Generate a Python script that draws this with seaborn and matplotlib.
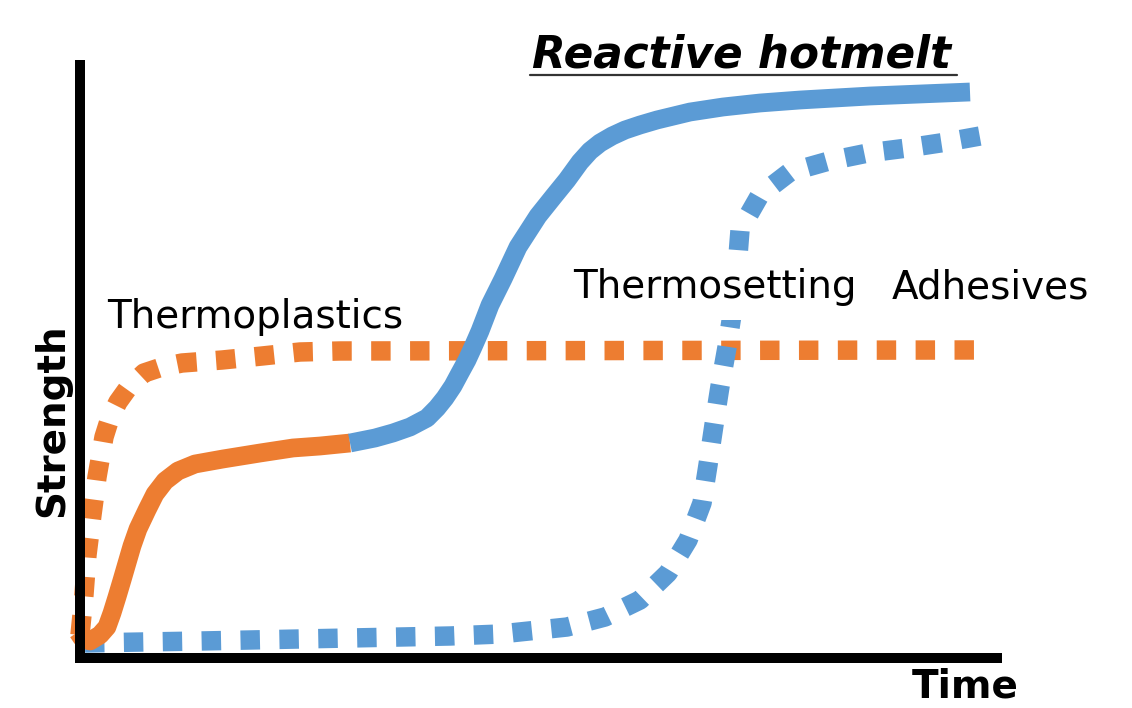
import matplotlib
matplotlib.use("Agg")
import matplotlib.pyplot as plt
import seaborn as sns
import pandas as pd

# ---- data (time 0-100, strength 0-100) ----
thermoplastic_t = [0.0, 0.43, 0.76, 1.30, 1.85, 2.61, 3.26, 4.13, 5.22, 6.96, 8.91, 11.09, 15.43, 19.78, 23.91, 28.26, 97.83]
thermoplastic_s = [3.85, 10.54, 17.22, 23.91, 30.27, 36.96, 40.13, 42.81, 45.15, 47.66, 48.66, 49.33, 49.83, 50.50, 51.17, 51.34, 51.51]

hotmelt_early_t = [-0.22, 0.22, 1.09, 2.17, 2.93, 3.48, 4.02, 4.57, 5.11, 5.65, 6.30, 7.28, 8.15, 9.24, 10.65, 12.50, 15.54, 19.57, 23.15, 26.09, 29.35]
hotmelt_early_s = [4.35, 3.34, 2.84, 3.85, 5.18, 7.53, 10.20, 13.04, 15.89, 18.73, 21.57, 24.75, 27.42, 29.60, 31.27, 32.44, 33.28, 34.28, 35.12, 35.45, 35.95]

hotmelt_cure_t = [29.35, 32.07, 34.02, 35.87, 37.72, 38.80, 39.67, 40.54, 41.30, 42.07, 42.72, 43.48, 44.57, 45.98, 47.61, 49.78, 51.52, 52.93, 54.35, 55.43, 56.52, 57.83, 59.24, 60.87, 62.72, 66.30, 69.89, 73.91, 78.26, 85.87, 96.74]
hotmelt_cure_s = [35.95, 36.79, 37.63, 38.63, 40.13, 41.81, 43.48, 45.48, 47.66, 49.83, 52.01, 54.68, 59.03, 63.38, 68.73, 73.91, 77.26, 79.93, 82.94, 84.78, 86.12, 87.29, 88.29, 89.13, 89.97, 91.30, 92.14, 92.81, 93.31, 93.98, 94.65]

thermoset_t = [0.54, 13.04, 23.91, 34.78, 40.22, 45.65, 52.93, 57.07, 60.87, 63.91, 66.09, 67.61, 68.26, 68.91, 69.57, 70.33, 70.98, 71.41, 71.74, 73.91, 77.17, 81.41, 85.65, 89.89, 94.24, 97.83]
thermoset_s = [2.51, 2.84, 3.18, 3.51, 3.68, 4.01, 5.18, 6.86, 9.70, 14.21, 19.73, 25.92, 32.27, 38.96, 45.48, 52.01, 58.53, 65.05, 71.57, 77.42, 81.27, 83.11, 84.45, 85.28, 86.29, 87.29]

title_text = "Reactive hotmelt"
label_thermoplastics = "Thermoplastics"
label_thermosetting = "Thermosetting"
label_adhesives = "Adhesives"
x_label = "Time"
y_label = "Strength"

ORANGE = "#ED7D31"
BLUE = "#5B9BD5"

sns.set_theme(style="white")
plt.rcParams["font.family"] = ["DejaVu Sans"]

W, H = 1132, 708
fig = plt.figure(figsize=(W / 100, H / 100), dpi=100)
fig.patch.set_facecolor("white")
ax = fig.add_axes([80 / W, (H - 658) / H, (997 - 80) / W, (658 - 65) / H])
ax.set_facecolor("white")

def draw(t, s, color, dotted, z):
    df = pd.DataFrame({"t": t, "s": s})
    kw = dict(color=color, linewidth=14 if dotted else 13.5, clip_on=False,
              solid_joinstyle="round", solid_capstyle="butt",
              dash_capstyle="butt", dash_joinstyle="round", zorder=z)
    if dotted:
        kw["linestyle"] = (0, (1, 1))
    sns.lineplot(data=df, x="t", y="s", sort=False, estimator=None, ax=ax, **kw)

draw(thermoplastic_t, thermoplastic_s, ORANGE, True, 2)
draw(thermoset_t, thermoset_s, BLUE, True, 3)
draw(hotmelt_early_t, hotmelt_early_s, ORANGE, False, 4)
draw(hotmelt_cure_t, hotmelt_cure_s, BLUE, False, 5)

ax.set_xlim(0, 917 / 9.2)
ax.set_ylim(0, 593 / 5.98)
ax.set_xticks([])
ax.set_yticks([])
ax.set_xlabel("")
ax.set_ylabel("")
for side in ["top", "right"]:
    ax.spines[side].set_visible(False)
for side in ["left", "bottom"]:
    sp = ax.spines[side]
    sp.set_visible(True)
    sp.set_color("black")
    sp.set_linewidth(7.2)
    sp.set_capstyle("projecting")
    sp.set_zorder(6)

def fx(px):
    return px / W

def fy(py):
    return 1 - py / H

fs = 28
fig.text(fx(107), fy(328), label_thermoplastics, fontsize=fs, va="baseline", ha="left", color="black")
fig.text(fx(573), fy(298), label_thermosetting, fontsize=fs, va="baseline", ha="left", color="black",
         bbox=dict(boxstyle="square,pad=0.35", facecolor="white", edgecolor="none"))
fig.text(fx(892), fy(298), label_adhesives, fontsize=fs, va="baseline", ha="left", color="black")
fig.text(fx(532), fy(68), title_text, fontsize=31.5, fontweight="bold", fontstyle="italic",
         va="baseline", ha="left", color="black")
fig.add_artist(plt.Line2D([fx(530), fx(957)], [fy(75), fy(75)], color="#333333", linewidth=1.6,
                          transform=fig.transFigure))
fig.text(fx(52), fy(420), y_label, fontsize=fs, fontweight="bold", rotation=90,
         va="center", ha="center", color="black")
fig.text(fx(912), fy(698), x_label, fontsize=fs, fontweight="bold", va="baseline", ha="left", color="black")

fig.savefig("out.png", dpi=100, facecolor="white")
